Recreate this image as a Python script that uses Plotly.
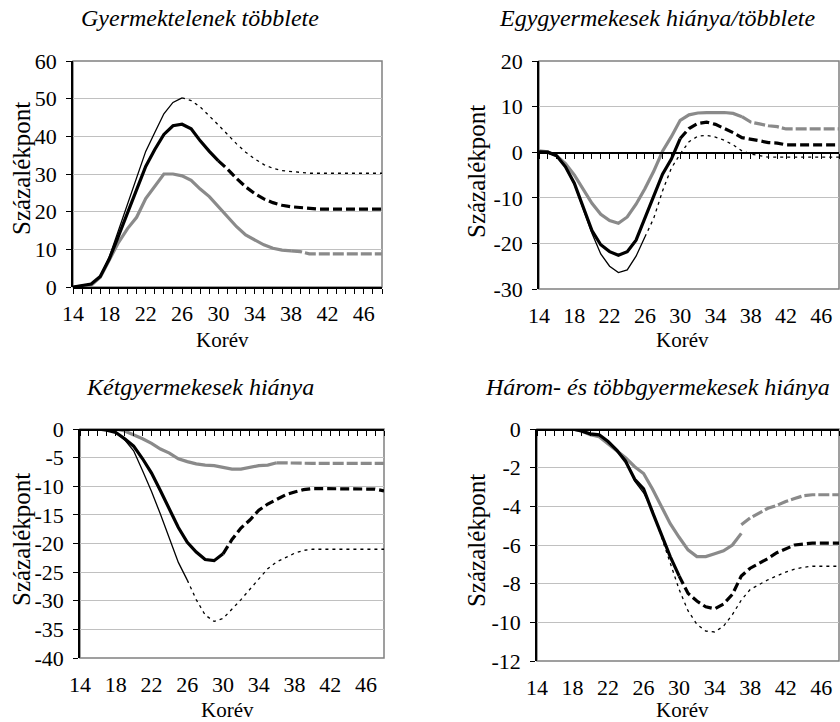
import plotly.graph_objects as go

W, H = 840, 722

# ---------------- data (ages in years, values in percentage points) ----------------
AGE_TICKS = [14, 18, 22, 26, 30, 34, 38, 42, 46]

# Panel 1: Gyermektelenek többlete
P1_THIN_OBS_START = 14
P1_THIN_OBS = [0, 0.3, 0.8, 2.8, 8, 15, 22, 29, 36, 41, 46, 49, 50.2]
P1_THIN_PROJ_START = 26
P1_THIN_PROJ = [50.2, 49.5, 47.8, 45.5, 43, 40.5, 38, 35.8, 34, 32.5, 31.5, 30.9, 30.6, 30.4,
                30.2, 30.2, 30.2, 30.2, 30.2, 30.2, 30.2, 30.2, 30.2]
P1_THICK_OBS_START = 14
P1_THICK_OBS = [0, 0.3, 0.8, 2.8, 7.5, 13.5, 19.5, 26, 32, 36.5, 40.5, 42.8, 43.2, 42, 38.8, 36, 33.5]
P1_THICK_PROJ_START = 30
P1_THICK_PROJ = [33.5, 31.3, 28.8, 26.6, 24.8, 23.4, 22.4, 21.7, 21.3, 21.1, 20.8,
                 20.7, 20.7, 20.7, 20.7, 20.7, 20.7, 20.7, 20.7]
P1_GRAY_OBS_START = 14
P1_GRAY_OBS = [0, 0.2, 0.5, 2.6, 7, 11.8, 15.5, 18.5, 23.5, 26.8, 30, 30, 29.5, 28.3, 26, 24,
               21.3, 18.7, 16, 13.8, 12.4, 11.2, 10.3, 9.8, 9.6]
P1_GRAY_PROJ_START = 38
P1_GRAY_PROJ = [9.6, 9.4, 8.8, 8.8, 8.8, 8.8, 8.8, 8.8, 8.8, 8.8, 8.8]

# Panel 2: Egygyermekesek hiánya/többlete
P2_THIN_OBS_START = 14
P2_THIN_OBS = [0, -0.2, -0.8, -3.3, -7, -12.3, -17.8, -22.3, -25, -26.4, -25.8, -22.8, -18.6]
P2_THIN_PROJ_START = 26
P2_THIN_PROJ = [-18.6, -14.5, -8.5, -3.5, -0.4, 2.3, 3.5, 3.7, 3.3, 2.6, 1.6, 0.3, -0.4, -0.8,
                -1.1, -1.1, -1.1, -1.1, -1.1, -1.1, -1.1, -1.1, -1.1]
P2_THICK_OBS_START = 14
P2_THICK_OBS = [0.1, 0, -0.8, -3.2, -6.8, -12, -17.2, -20.3, -21.8, -22.6, -21.8, -19.3, -14.5,
                -10, -4.8, -1.5, 3.0]
P2_THICK_PROJ_START = 30
P2_THICK_PROJ = [3.0, 5.2, 6.3, 6.6, 6.1, 5.2, 4.3, 3.2, 2.9, 2.5, 2.1, 2.0, 1.6,
                 1.6, 1.6, 1.6, 1.6, 1.6, 1.6]
P2_GRAY_OBS_START = 14
P2_GRAY_OBS = [0.3, 0.1, -0.8, -2.5, -5, -8, -11.2, -13.6, -15, -15.6, -14.2, -11.4, -8, -4.2,
               0.2, 3.4, 7, 8.2, 8.6, 8.7, 8.7, 8.7, 8.5, 7.8]
P2_GRAY_PROJ_START = 37
P2_GRAY_PROJ = [7.8, 6.6, 6.2, 5.8, 5.6, 5.1, 5.1, 5.1, 5.1, 5.1, 5.1, 5.1]

# Panel 3: Kétgyermekesek hiánya
P3_THIN_OBS_START = 14
P3_THIN_OBS = [0, 0, 0, -0.2, -0.6, -1.9, -3.8, -7.3, -10.9, -14.9, -19.1, -23.3, -26.4]
P3_THIN_PROJ_START = 26
P3_THIN_PROJ = [-26.4, -29.8, -32.5, -33.6, -33.1, -31.5, -29.8, -28.0, -26.2, -24.4, -23.2,
                -22.4, -21.7, -21.2, -21.0, -21.0, -21.0, -21.0, -21.0, -21.0, -21.0, -21.0, -21.0]
P3_THICK_OBS_START = 14
P3_THICK_OBS = [0, 0, 0, -0.2, -0.6, -1.7, -3.0, -5.2, -7.7, -10.8, -14.0, -17.2, -19.8, -21.5,
                -22.8, -23.0, -21.8]
P3_THICK_PROJ_START = 30
P3_THICK_PROJ = [-21.8, -19.3, -17.3, -15.9, -14.2, -13.1, -12.3, -11.5, -11.0, -10.6, -10.4,
                 -10.4, -10.4, -10.4, -10.4, -10.4, -10.4, -10.5, -10.8]
P3_GRAY_OBS_START = 14
P3_GRAY_OBS = [0, 0, 0, 0, 0, -0.35, -0.95, -1.7, -2.5, -3.5, -4.2, -5.2, -5.7, -6.1, -6.3,
               -6.4, -6.7, -7.0, -7.0, -6.7, -6.4, -6.3, -5.9]
P3_GRAY_PROJ_START = 36
P3_GRAY_PROJ = [-5.9, -5.95, -6.0, -6.0, -6.0, -6.0, -6.0, -6.0, -6.0, -6.0, -6.0, -6.0, -6.0]

# Panel 4: Három- és többgyermekesek hiánya
P4_THIN_OBS_START = 14
P4_THIN_OBS = [0, 0, 0, 0, 0, -0.1, -0.25, -0.3, -0.65, -1.1, -1.6, -2.7, -3.3, -4.2]
P4_THIN_PROJ_START = 27
P4_THIN_PROJ = [-4.2, -5.6, -7.0, -8.3, -9.4, -10.1, -10.45, -10.5, -10.2, -9.6, -8.85, -8.3,
                -8.05, -7.8, -7.6, -7.4, -7.25, -7.15, -7.1, -7.1, -7.1, -7.1]
P4_THICK_OBS_START = 14
P4_THICK_OBS = [0, 0, 0, 0, 0, -0.1, -0.25, -0.3, -0.65, -1.1, -1.7, -2.6, -3.1, -4.3, -5.5,
                -6.6, -7.6]
P4_THICK_PROJ_START = 30
P4_THICK_PROJ = [-7.6, -8.5, -8.9, -9.2, -9.3, -9.05, -8.55, -7.6, -7.2, -6.95, -6.7, -6.4,
                 -6.2, -6.0, -5.95, -5.9, -5.9, -5.9, -5.9]
P4_GRAY_OBS_START = 14
P4_GRAY_OBS = [0, 0, 0, 0, 0, -0.1, -0.3, -0.4, -0.75, -1.1, -1.5, -1.95, -2.3, -3.1, -4.0,
               -4.9, -5.6, -6.25, -6.6, -6.6, -6.45, -6.3, -6.0, -5.4]
P4_GRAY_PROJ_START = 37
P4_GRAY_PROJ = [-4.95, -4.6, -4.35, -4.1, -3.95, -3.75, -3.6, -3.45, -3.4, -3.4, -3.4, -3.4]

TITLES = ["Gyermektelenek többlete", "Egygyermekesek hiánya/többlete",
          "Kétgyermekesek hiánya", "Három- és többgyermekesek hiánya"]
Y_RANGES = [(0, 60), (-30, 20), (-40, 0), (-12, 0)]
Y_DTICKS = [10, 10, 5, 2]
X_TITLE = "Korév"
Y_TITLE = "Százalékpont"

PANELS = [
    dict(thin=(P1_THIN_OBS_START, P1_THIN_OBS, P1_THIN_PROJ_START, P1_THIN_PROJ),
         thick=(P1_THICK_OBS_START, P1_THICK_OBS, P1_THICK_PROJ_START, P1_THICK_PROJ),
         gray=(P1_GRAY_OBS_START, P1_GRAY_OBS, P1_GRAY_PROJ_START, P1_GRAY_PROJ)),
    dict(thin=(P2_THIN_OBS_START, P2_THIN_OBS, P2_THIN_PROJ_START, P2_THIN_PROJ),
         thick=(P2_THICK_OBS_START, P2_THICK_OBS, P2_THICK_PROJ_START, P2_THICK_PROJ),
         gray=(P2_GRAY_OBS_START, P2_GRAY_OBS, P2_GRAY_PROJ_START, P2_GRAY_PROJ)),
    dict(thin=(P3_THIN_OBS_START, P3_THIN_OBS, P3_THIN_PROJ_START, P3_THIN_PROJ),
         thick=(P3_THICK_OBS_START, P3_THICK_OBS, P3_THICK_PROJ_START, P3_THICK_PROJ),
         gray=(P3_GRAY_OBS_START, P3_GRAY_OBS, P3_GRAY_PROJ_START, P3_GRAY_PROJ)),
    dict(thin=(P4_THIN_OBS_START, P4_THIN_OBS, P4_THIN_PROJ_START, P4_THIN_PROJ),
         thick=(P4_THICK_OBS_START, P4_THICK_OBS, P4_THICK_PROJ_START, P4_THICK_PROJ),
         gray=(P4_GRAY_OBS_START, P4_GRAY_OBS, P4_GRAY_PROJ_START, P4_GRAY_PROJ)),
]

# ---------------- layout geometry (pixels) ----------------
# plot areas: (left, right, top, bottom)
BOXES = [(73, 382, 61, 287), (539, 839, 61, 289), (80, 384, 429, 658), (537, 839, 429, 661)]
TITLE_POS = [(200, 18), (657, 18), (200, 387), (657, 387)]
XTITLE_POS = [(222, 340), (682, 340), (227, 710), (682, 710)]
YTITLE_POS = [(21, 169), (477, 172), (21, 540), (476, 541)]

FONT = '"Liberation Serif", "Times New Roman", Tinos, "DejaVu Serif", serif'
BLACK = "#000000"
GRAY = "#8a8a8a"
STYLE = {
    "gray": dict(color=GRAY, width=3.2, dash="11px,3px"),
    "thick": dict(color=BLACK, width=3.2, dash="9px,4px"),
    "thin": dict(color=BLACK, width=1.3, dash="3px,4px"),
}


def px_x(p):
    return p / W


def px_y(p):
    return 1 - p / H


def fmt(v):
    return str(int(v)) if v >= 0 else "-" + str(int(-v))


fig = go.Figure()
layout = dict(template="none", width=W, height=H, margin=dict(l=0, r=0, t=0, b=0, pad=0),
              autosize=False, paper_bgcolor="white", plot_bgcolor="rgba(0,0,0,0)",
              showlegend=False, font=dict(family=FONT, size=22, color=BLACK))
shapes, annotations = [], []

for i, panel in enumerate(PANELS):
    n = i + 1
    xa, ya = ("x" if n == 1 else f"x{n}"), ("y" if n == 1 else f"y{n}")
    xs, ys = f"x{n + 4}", f"y{n + 4}"
    l, r, t, b = BOXES[i]
    ymin, ymax = Y_RANGES[i]
    y_dom = [px_y(b), px_y(t)]
    zero_pos = y_dom[0] + (0 - ymin) / (ymax - ymin) * (y_dom[1] - y_dom[0])

    for key in ["gray", "thick", "thin"]:
        s0, obs, s1, proj = panel[key]
        st = STYLE[key]
        fig.add_trace(go.Scatter(x=list(range(s0, s0 + len(obs))), y=obs, mode="lines",
                                 line=dict(color=st["color"], width=st["width"]),
                                 xaxis=xa, yaxis=ya, hoverinfo="skip"))
        fig.add_trace(go.Scatter(x=list(range(s1, s1 + len(proj))), y=proj, mode="lines",
                                 line=dict(color=st["color"], width=st["width"], dash=st["dash"]),
                                 xaxis=xa, yaxis=ya, hoverinfo="skip"))
    # helper trace for the zero-line tick strip subplot
    fig.add_trace(go.Scatter(x=[None], y=[None], xaxis=xs, yaxis=ys, hoverinfo="skip"))

    yticks = list(range(ymin, ymax + 1, Y_DTICKS[i]))
    layout[f"xaxis{n}"] = dict(domain=[px_x(l), px_x(r)], anchor=ya, range=[14, 48],
                               tickmode="array", tickvals=AGE_TICKS,
                               ticktext=[str(v) for v in AGE_TICKS], ticks="",
                               showline=False, showgrid=False, zeroline=False, automargin=False,
                               ticklabelstandoff=11, tickfont=dict(family=FONT, size=22))
    layout[f"yaxis{n}"] = dict(domain=y_dom, anchor=xa, range=[ymin, ymax], tickmode="array",
                               tickvals=yticks, ticktext=[fmt(v) for v in yticks],
                               ticks="outside", ticklen=5, tickwidth=1, tickcolor=BLACK,
                               showline=True, linecolor=BLACK, linewidth=1.5,
                               showgrid=True, gridcolor="#c0c0c0", gridwidth=1, zeroline=False,
                               automargin=False, ticklabelstandoff=5,
                               tickfont=dict(family=FONT, size=22))
    # thin strip subplot whose bottom edge sits on the value 0 -> axis line with yearly ticks
    layout[f"xaxis{n + 4}"] = dict(domain=[px_x(l), px_x(r)], anchor=ys, range=[14, 48],
                                   side="bottom", tickmode="linear", tick0=14, dtick=1,
                                   ticks="outside", ticklen=5, tickwidth=1, tickcolor=BLACK,
                                   showticklabels=False, showgrid=False, zeroline=False,
                                   showline=True, linecolor=BLACK, linewidth=1.5,
                                   automargin=False)
    layout[f"yaxis{n + 4}"] = dict(domain=[zero_pos, zero_pos + 0.0004], anchor=xs,
                                   visible=False, range=[0, 1], automargin=False)
    dref = "" if n == 1 else str(n)
    shapes.append(dict(type="rect", xref=f"x{dref} domain", yref=f"y{dref} domain",
                       x0=0, x1=1, y0=0, y1=1, line=dict(color="#808080", width=1.5),
                       layer="below"))
    tx, ty = TITLE_POS[i]
    annotations.append(dict(text=f"<i>{TITLES[i]}</i>", x=px_x(tx), y=px_y(ty), xref="paper",
                            yref="paper", showarrow=False, xanchor="center", yanchor="middle",
                            font=dict(family=FONT, size=24)))
    kx, ky = XTITLE_POS[i]
    annotations.append(dict(text=X_TITLE, x=px_x(kx), y=px_y(ky), xref="paper", yref="paper",
                            showarrow=False, xanchor="center", yanchor="middle",
                            font=dict(family=FONT, size=21)))
    sx, sy = YTITLE_POS[i]
    annotations.append(dict(text=Y_TITLE, x=px_x(sx), y=px_y(sy), xref="paper", yref="paper",
                            showarrow=False, xanchor="center", yanchor="middle", textangle=-90,
                            font=dict(family=FONT, size=25)))

layout["shapes"] = shapes
layout["annotations"] = annotations
fig.update_layout(**layout)
fig.write_html("out.html", config={"displayModeBar": False},
               post_script="document.body.style.margin='0px';"
                           "document.body.style.overflow='hidden';")
